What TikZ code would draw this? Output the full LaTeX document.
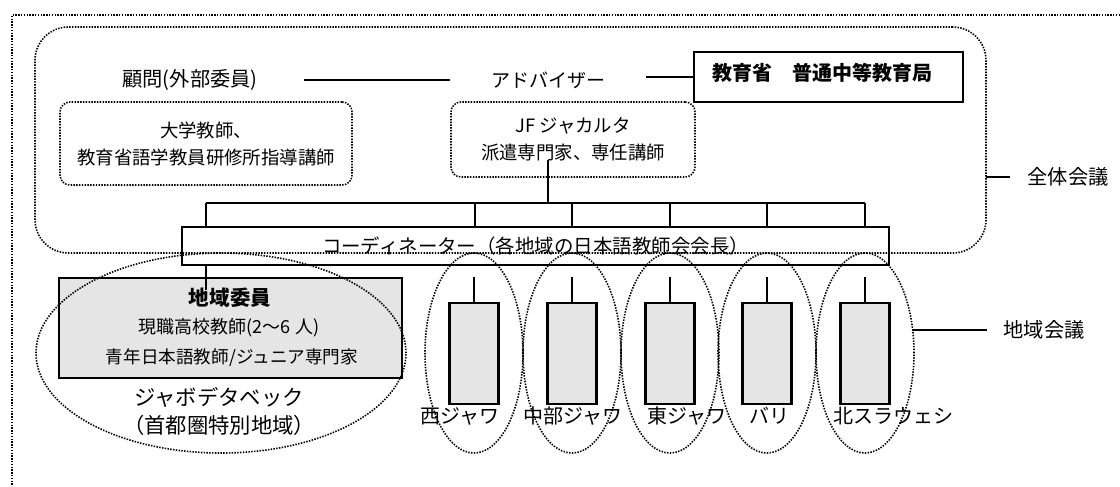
\documentclass[tikz,border=0pt]{standalone}
\usepackage{fontspec}
\setmainfont{Noto Sans CJK JP}
\usetikzlibrary{shapes.geometric,calc}
\newcommand{\fsz}[2]{\fontsize{#1}{#2}\selectfont}
\tikzset{
  every node/.style={inner sep=0pt,outer sep=0pt},
  solidline/.style={line width=1.8pt,black},
  dotline/.style={line width=1.2pt,black,dash pattern=on 1.1pt off 1pt},
  txt/.style={font=\fsz{14.25}{20}},
  boxtxt/.style={font=\fsz{13.8}{20.25},align=center},
  lbl/.style={font=\fsz{15}{20}},
  regbox/.style={draw,solidline,fill=black!10,minimum width=36.75pt,minimum height=75.75pt},
  regell/.style={draw,dotline,ellipse,minimum width=73.5pt,minimum height=150pt},
}
\begin{document}
\begin{tikzpicture}[x=0.75pt,y=-0.75pt]
\useasboundingbox (0,0) rectangle (1120,486);
\fill[white] (0,0) rectangle (1120,486);
% outer frame (cut by picture border)
\coordinate (fTR) at (1120,15);
\coordinate (fTL) at (12,15);
\coordinate (fBL) at (12,486);
\draw[dotline] (fTR) -- (fTL) -- (fBL);
% whole meeting box
\node[draw,dotline,rounded corners=25pt,minimum width=713.25pt,minimum height=169.5pt] (zentai) at (510.5,140) {};
% top row
\node[txt,font=\fsz{15.2}{20}] (kom) at (190,80) {顧問(外部委員)};
\node[txt] (adv) at (548,80) {アドバイザー};
\node[draw,solidline,minimum width=201.75pt,minimum height=37.5pt] (moe) at (828.5,77) {};
\node[font=\bfseries\fsz{15}{20}] (moet) at (822,73) {教育省　普通中等教育局};
\coordinate (k1) at (304,80);
\coordinate (k2) at (450,80);
\draw[solidline] (k1) -- (k2);
\coordinate (a1) at (646,77);
\draw[solidline] (a1) -- (moe.west);
% advisor detail boxes
\node[draw,dotline,rounded corners=7.5pt,minimum width=219pt,minimum height=62.25pt,boxtxt] (box1) at (206,143.5) {大学教師、\\教育省語学教員研修所指導講師};
\node[draw,dotline,rounded corners=7.5pt,minimum width=183pt,minimum height=56.25pt,boxtxt] (box2) at (573,139.5) {JF ジャカルタ\\派遣専門家、専任講師};
% coordinator
\node[draw,solidline,minimum width=530.25pt,minimum height=28.5pt,font=\fsz{14.6}{20}] (coord) at (535.5,246) {コーディネーター（各地域の日本語教師会会長）};
% bar
\coordinate (vt) at (548,160);
\coordinate (barL) at (206,203);
\coordinate (barR) at (865,203);
\draw[solidline] (vt) -- (vt |- barL);
\draw[solidline] (barL) -- (barR);
\foreach \x in {206,475,572,670,767,865}{
  \draw[solidline] (\x,203) -- (coord.north -| \x,0);
}
% Jabodetabek
\node[draw,solidline,fill=black!10,minimum width=257.25pt,minimum height=75pt,align=center] (chiiki) at (230.5,328) {};
\node[font=\bfseries\fsz{15.4}{20}] (cht1) at (230,298) {地域委員};
\node[font=\fsz{13.5}{20}] (cht2) at (229,328) {現職高校教師(2～6 人)};
\node[font=\fsz{13.2}{20}] (cht3) at (232,358) {青年日本語教師/ジュニア専門家};
\coordinate (cj) at (206,290);
\draw[solidline] (coord.south -| cj) -- (cj);
\node[draw,dotline,ellipse,minimum width=277.5pt,minimum height=150pt] (jell) at (221,353) {};
\node[font=\fsz{16}{21},align=center] (jlbl) at (219,411) {ジャボデタベック\\（首都圏特別地域）};
% regions
\foreach \n/\x/\lx/\t in {1/474/460/西ジャワ,2/572/573/中部ジャワ,3/670/687/東ジャワ,4/767/769/バリ,5/865/893/北スラウェシ}{
  \node[regbox] (rb\n) at (\x,353.5) {};
  \coordinate (rs\n) at (\x,277);
  \draw[solidline] (rs\n) -- (rb\n.north);
  \node[regell] (re\n) at (\x,353) {};
  \node[lbl] (rl\n) at (\lx,416) {\t};
}
% meeting labels
\node[lbl,font=\fsz{15.2}{20}] (zt) at (1068,177) {全体会議};
\coordinate (ze) at (1010,177);
\draw[solidline] (zentai.east |- ze) -- (ze);
\node[lbl,font=\fsz{15.2}{20}] (ct) at (1044,330) {地域会議};
\coordinate (cs) at (912,330);
\coordinate (ce) at (987,330);
\draw[solidline] (cs) -- (ce);
\end{tikzpicture}
\end{document}
